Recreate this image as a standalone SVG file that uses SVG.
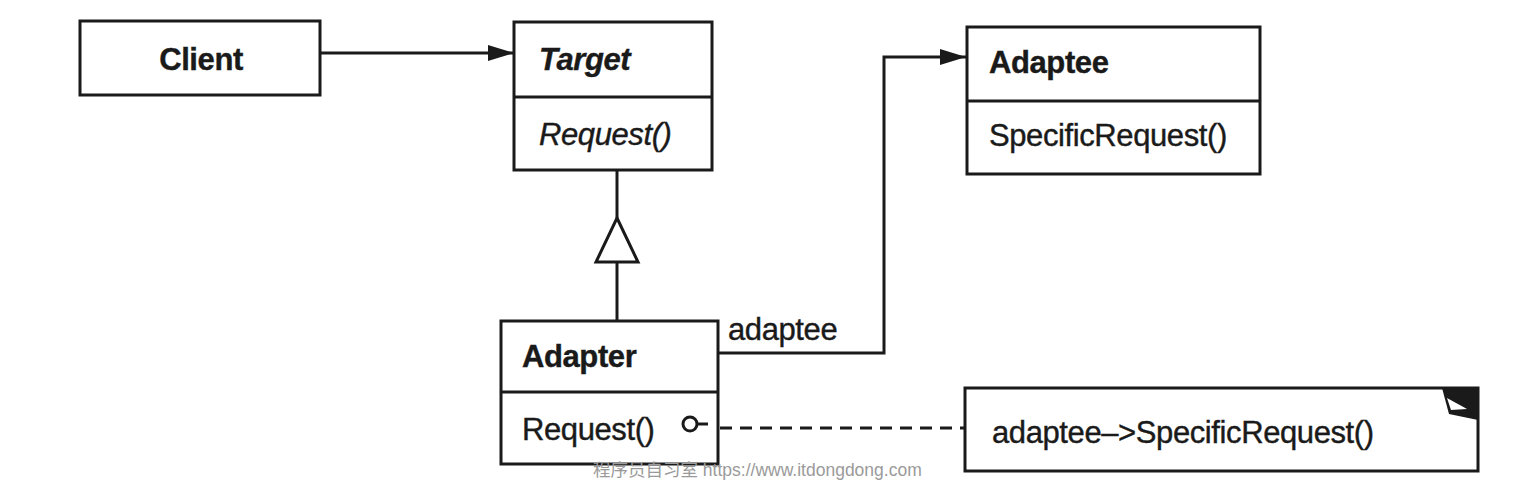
<svg xmlns="http://www.w3.org/2000/svg" width="1524" height="500" viewBox="0 0 1524 500">
<style>
.box{fill:#fff;stroke:#1a1a1a;stroke-width:3}
.ln{fill:none;stroke:#1a1a1a;stroke-width:3}
.t{font-family:"Liberation Sans",Arial,sans-serif;font-size:31px;fill:#1a1a1a;stroke:#1a1a1a;stroke-width:0.4;letter-spacing:-0.4px}
.b{font-weight:bold}
.i{font-style:italic}
.wm{font-family:"Liberation Sans","Noto Sans CJK SC",sans-serif;font-size:17.5px;fill:#9a9a9a}
</style>
<defs>
<marker id="arr" markerWidth="26" markerHeight="18" refX="26" refY="9" orient="auto" markerUnits="userSpaceOnUse">
<path d="M0,1 L26,9 L0,17 Z" fill="#1a1a1a"/>
</marker>
</defs>
<rect width="1524" height="500" fill="#fff"/>
<g id="client">
<rect class="box" x="80" y="21" width="240" height="74"/>
<text class="t b" x="201" y="70" text-anchor="middle">Client</text>
</g>
<g id="target">
<rect class="box" x="514" y="22" width="198" height="148"/>
<line class="ln" x1="514" y1="97" x2="712" y2="97"/>
<text class="t b i" x="539" y="70">Target</text>
<text class="t i" x="539" y="145">Request()</text>
</g>
<g id="adapter">
<rect class="box" x="501" y="321" width="217" height="143"/>
<line class="ln" x1="501" y1="392" x2="718" y2="392"/>
<text class="t b" x="522" y="367">Adapter</text>
<text class="t" x="522" y="440">Request()</text>
</g>
<g id="adaptee">
<rect class="box" x="967" y="27" width="293" height="147"/>
<line class="ln" x1="967" y1="101" x2="1260" y2="101"/>
<text class="t b" x="989" y="73">Adaptee</text>
<text class="t" x="989" y="146">SpecificRequest()</text>
</g>
<g id="note">
<rect class="box" x="965" y="388" width="513" height="83"/>
<polygon points="1442,388 1478,388 1478,420 1449,414" fill="#1a1a1a"/>
<polygon points="1447,398 1467,409 1451,410" fill="#fff"/>
<text class="t" x="992" y="443">adaptee–&gt;SpecificRequest()</text>
</g>
<g id="connectors">
<line class="ln" x1="320" y1="53" x2="514" y2="53" marker-end="url(#arr)"/>
<line class="ln" x1="617" y1="170" x2="617" y2="218"/>
<polygon class="ln" points="617,218 638,262 596,262"/>
<line class="ln" x1="617" y1="262" x2="617" y2="321"/>
<polyline class="ln" points="718,353 884,353 884,57 966,57" marker-end="url(#arr)"/>
<text class="t" x="728" y="340">adaptee</text>
<circle cx="690" cy="424" r="7" fill="none" stroke="#1a1a1a" stroke-width="3"/>
<line class="ln" x1="697" y1="424" x2="708" y2="424"/>
<line class="ln" x1="720" y1="428" x2="965" y2="428" stroke-dasharray="12,8"/>
</g>
<text class="wm" x="593" y="476">程序员自习室 https://www.itdongdong.com</text>
</svg>
